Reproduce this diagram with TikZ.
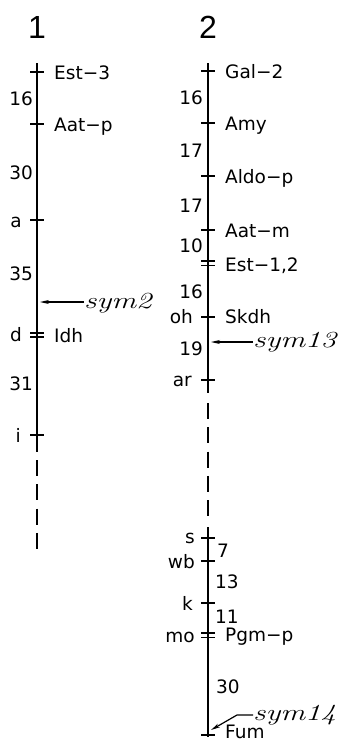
\documentclass[tikz,border=0pt]{standalone}
\usepackage{fontspec}
\usepackage{graphicx}
\usetikzlibrary{arrows.meta}
\newfontfamily\sansf{DejaVu Sans}
\newfontfamily\headfam{Liberation Sans}
\newcommand\lab{\sansf\fontsize{18.5}{18.5}\selectfont}
\newcommand\headf{\headfam\fontsize{32}{32}\selectfont}
\newcommand\symtxt[1]{\scalebox{1.35}[1]{\fontsize{23}{23}\selectfont\itshape #1}}
\tikzset{
  chrom/.style={line width=2.5pt},
  gap/.style={line width=2.2pt, dash pattern=on 16pt off 8.3pt},
  tk/.style={line width=1.5pt},
  rl/.style={inner sep=0pt, anchor=base west, font=\lab},
  ll/.style={inner sep=0pt, anchor=base east, font=\lab},
  hd/.style={inner sep=0pt, anchor=center, font=\headf},
  sy/.style={inner sep=0pt, anchor=base west},
  pointer/.style={line width=1.2pt, -{Stealth[length=9pt,width=4pt]}},
}
\begin{document}
\begin{tikzpicture}[x=1pt,y=-1pt]
\useasboundingbox (0,0) rectangle (344,742);
% headings
\node[hd] (h1) at (37,27) {1};
\node[hd] (h2) at (208,27) {2};
% ---------- chromosome 1 ----------
\coordinate (c1top) at (37,63);
\coordinate (c1sol) at (37,452);
\coordinate (c1da) at (37,460);
\coordinate (c1db) at (37,549);
\draw[chrom] (c1top) -- (c1sol);
\draw[gap] (c1da) -- (c1db);
\foreach \n/\y in {t1a/72, t1b/124, t1c/220, t1d/333, t1e/337, t1f/435}{
  \coordinate (\n) at (37,\y);
  \draw[tk] ([xshift=-7pt]\n) -- ([xshift=7pt]\n);
}
\node[rl] (est3) at (54,79) {Est−3};
\node[rl] (aatp) at (54,131) {Aat−p};
\node[rl] (idh) at (54,342) {Idh};
\node[ll] (n1a) at (33,105) {16};
\node[ll] (n1b) at (33,179) {30};
\node[ll] (la) at (22,227) {a};
\node[ll] (n1c) at (33,280) {35};
\node[ll] (ld) at (22,341) {d};
\node[ll] (n1d) at (33,390) {31};
\node[ll] (li) at (21,442) {i};
\node[sy] (sym2) at (84,308) {\symtxt{sym2}};
\coordinate (p2) at (40,302);
\draw[pointer] (sym2.west |- p2) -- (p2);
% ---------- chromosome 2 ----------
\coordinate (c2top) at (208,63);
\coordinate (c2sol) at (208,393);
\coordinate (c2da) at (208,403);
\coordinate (c2db) at (208,518);
\coordinate (c2sb) at (208,527);
\coordinate (c2bot) at (208,737);
\draw[chrom] (c2top) -- (c2sol);
\draw[gap] (c2da) -- (c2db);
\draw[chrom] (c2sb) -- (c2bot);
\foreach \n/\y in {u1/71, u2/123, u3/176, u4/230, u5/261, u6/265.5, u7/317, u8/380, u9/538, u10/561, u11/603, u12/633, u13/637.5, u14/735}{
  \coordinate (\n) at (208,\y);
  \draw[tk] ([xshift=-7pt]\n) -- ([xshift=7pt]\n);
}
\node[rl] (gal2) at (225,78) {Gal−2};
\node[rl] (amy) at (225,130) {Amy};
\node[rl] (aldop) at (225,183) {Aldo−p};
\node[rl] (aatm) at (225,237) {Aat−m};
\node[rl] (est12) at (225,271) {Est−1,2};
\node[rl] (skdh) at (225,323) {Skdh};
\node[rl] (pgmp) at (225,641) {Pgm−p};
\node[rl] (fum) at (225,738) {Fum};
\node[ll] (m1) at (203,104) {16};
\node[ll] (m2) at (203,157) {17};
\node[ll] (m3) at (203,212) {17};
\node[ll] (m4) at (203,252) {10};
\node[ll] (m5) at (203,298) {16};
\node[ll] (m6) at (203,355) {19};
\node[ll] (loh) at (193,323) {oh};
\node[ll] (lar) at (192,386) {ar};
\node[ll] (ls) at (195,543) {s};
\node[ll] (lwb) at (195,568) {wb};
\node[ll] (lk) at (193,610) {k};
\node[ll] (lmo) at (195,642) {mo};
\node[rl] (r1) at (217,557) {7};
\node[rl] (r2) at (215,588) {13};
\node[rl] (r3) at (215,623) {11};
\node[rl] (r4) at (216,693) {30};
\node[sy] (sym13) at (253,347) {\symtxt{sym13}};
\coordinate (p13) at (211,342);
\draw[pointer] (sym13.west |- p13) -- (p13);
\node[sy] (sym14) at (253,720) {\symtxt{sym14}};
\coordinate (k14) at (237,715);
\coordinate (p14) at (211,730);
\draw[pointer] (sym14.west |- k14) -- (k14) -- (p14);
\end{tikzpicture}
\end{document}
